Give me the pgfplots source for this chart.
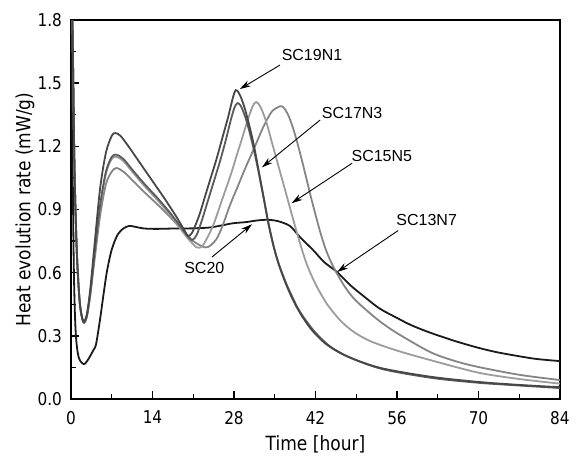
\documentclass[border=0pt]{standalone}
\usepackage{pgfplots}
\pgfplotsset{compat=1.18}
\usepackage{fontspec}
\newfontfamily\tah[FakeStretch=0.87]{DejaVu Sans}
\newfontfamily\arial{Liberation Sans}
\usetikzlibrary{arrows.meta}
\definecolor{cA}{HTML}{474747}
\definecolor{cB}{HTML}{5A5A5A}
\definecolor{cC}{HTML}{9C9C9C}
\definecolor{cD}{HTML}{858585}
\definecolor{cE}{HTML}{1A1A1A}
\begin{document}
\begin{tikzpicture}
\begin{axis}[
  name=ax, at={(0,0)}, anchor=south west,
  scale only axis, width=244.5pt, height=189.5pt,
  xmin=0, xmax=84, ymin=0, ymax=1.8,
  xtick={0,14,28,42,56,70,84},
  ytick={0,0.3,0.6,0.9,1.2,1.5,1.8},
  minor x tick num=1, minor y tick num=1,
  tick align=inside, xtick pos=bottom, ytick pos=left,
  major tick length=4pt, minor tick length=2.5pt,
  axis line style={line width=0.8pt},
  every tick/.style={black, line width=0.7pt},
  /pgf/number format/assume math mode=true,
  tick label style={font=\tah\fontsize{8.8}{10}\selectfont},
  yticklabel style={/pgf/number format/fixed, /pgf/number format/fixed zerofill, /pgf/number format/precision=1, xshift=-1pt},
  xticklabel style={yshift=-2.5pt},
  label style={font=\tah\fontsize{9.8}{11}\selectfont},
  xlabel={Time [hour]},
  ylabel={Heat evolution rate (mW/g)},
  xlabel style={at={(axis description cs:0.5,-0.137)}, anchor=base},
  ylabel style={at={(axis description cs:-0.094,0.5)}, anchor=center},
  every axis plot/.append style={line width=0.9pt, smooth, no marks},
]
% black curve
\addplot[cE] coordinates {
(0.05,2.0)(0.25,1.2)(0.5,0.6)(0.8,0.32)(1.3,0.2)(2.2,0.166)(3,0.19)(3.8,0.23)(4.3,0.26)(5,0.38)(5.6,0.5)(6.2,0.61)(7,0.71)(8,0.78)(9,0.81)(10,0.822)(11,0.818)(12.5,0.81)(14.7,0.808)(18,0.81)(20,0.81)(22.2,0.812)(24,0.815)(26,0.825)(27.9,0.835)(30,0.84)(32,0.848)(33.7,0.851)(35.5,0.845)(37.6,0.822)(39.3,0.77)(41.6,0.707)(43.5,0.65)(45.7,0.603)(48,0.54)(50.2,0.49)(53,0.43)(56,0.385)(58.5,0.35)(61.7,0.315)(66,0.275)(70,0.243)(73.2,0.222)(77,0.203)(80,0.19)(84,0.18)};
% D
\addplot[cD] coordinates {
(0.05,2.2)(0.3,1.7)(0.6,1.1)(1.0,0.7)(1.5,0.46)(2.1,0.37)(2.7,0.39)(3.3,0.49)(4,0.65)(5,0.87)(6,1.02)(7,1.08)(7.8,1.097)(9,1.08)(10.5,1.04)(12.5,0.985)(15,0.92)(17,0.865)(19,0.805)(21,0.75)(23,0.72)(24,0.73)(25,0.76)(26,0.82)(27.3,0.92)(28.5,1.0)(30,1.1)(31.6,1.2)(33,1.29)(34.5,1.365)(35.9,1.39)(36.5,1.385)(37.3,1.35)(38.1,1.29)(38.9,1.215)(39.7,1.13)(40.5,1.04)(41.3,0.95)(42.1,0.865)(42.9,0.785)(43.7,0.715)(44.6,0.655)(45.6,0.6)(47,0.535)(48.5,0.48)(50.2,0.435)(53,0.37)(56,0.313)(61.7,0.223)(66,0.18)(70,0.152)(77,0.115)(84,0.09)};
% C
\addplot[cC] coordinates {
(0.05,2.2)(0.3,1.7)(0.6,1.1)(1.0,0.7)(1.5,0.46)(2.1,0.365)(2.7,0.39)(3.3,0.5)(4,0.68)(5,0.91)(6,1.07)(7,1.14)(7.8,1.15)(9,1.13)(10.5,1.08)(12.5,1.015)(15,0.94)(17,0.875)(18.5,0.82)(20,0.765)(21.6,0.72)(22.5,0.725)(23.3,0.76)(24.5,0.83)(26,0.95)(27.5,1.07)(28.5,1.16)(29.3,1.23)(30.3,1.32)(31.2,1.39)(31.8,1.41)(32.5,1.39)(33.5,1.32)(34.5,1.22)(35.5,1.12)(36.5,1.02)(37.5,0.92)(38.5,0.82)(39.5,0.725)(40.5,0.64)(41.5,0.575)(42.5,0.52)(44,0.45)(46.2,0.375)(48.5,0.32)(51.4,0.275)(56,0.23)(61.7,0.185)(70,0.125)(77,0.095)(84,0.073)};
% B
\addplot[cB] coordinates {
(0.05,2.2)(0.3,1.7)(0.6,1.1)(1.0,0.7)(1.5,0.46)(2.1,0.365)(2.7,0.39)(3.3,0.5)(4,0.68)(5,0.92)(6,1.08)(7,1.15)(7.8,1.16)(9,1.14)(10.5,1.09)(12.5,1.025)(15,0.95)(17,0.885)(18.5,0.83)(19.9,0.78)(20.8,0.755)(21.6,0.78)(22.5,0.85)(23.5,0.94)(24.5,1.03)(25.5,1.12)(26.5,1.22)(27.5,1.33)(28.1,1.385)(28.6,1.405)(29.1,1.395)(29.6,1.365)(30.1,1.325)(30.6,1.275)(31.1,1.22)(31.6,1.16)(32.1,1.095)(32.6,1.025)(33.1,0.955)(33.6,0.88)(34.1,0.81)(34.6,0.75)(35.1,0.695)(35.6,0.65)(36.1,0.61)(37.1,0.54)(38.1,0.48)(39.1,0.425)(40.3,0.375)(42,0.315)(44.5,0.25)(48,0.196)(53.5,0.142)(62,0.1)(70,0.077)(77,0.064)(84,0.052)};
% A
\addplot[cA] coordinates {
(0.05,2.2)(0.3,1.7)(0.6,1.1)(1.0,0.7)(1.5,0.46)(2.1,0.37)(2.7,0.4)(3.3,0.52)(4,0.72)(5,1.0)(6,1.17)(7,1.25)(7.6,1.263)(8.5,1.25)(10,1.195)(12,1.115)(14,1.035)(16,0.955)(18,0.87)(19.3,0.81)(20.1,0.775)(20.8,0.79)(22,0.87)(23,0.96)(24,1.05)(25,1.14)(26,1.24)(27,1.34)(27.8,1.43)(28.3,1.467)(28.8,1.455)(29.3,1.425)(29.8,1.385)(30.3,1.335)(30.8,1.28)(31.3,1.22)(31.8,1.15)(32.3,1.075)(32.8,1.0)(33.3,0.925)(33.8,0.85)(34.3,0.785)(34.8,0.725)(35.3,0.675)(35.8,0.63)(36.8,0.555)(37.8,0.49)(38.8,0.435)(40,0.38)(41.6,0.32)(44,0.257)(47.4,0.203)(53.1,0.148)(61.7,0.106)(70,0.081)(77,0.067)(84,0.056)};
% annotations
\begin{scope}[every node/.style={font=\arial\fontsize{8}{9}\selectfont, inner sep=0pt}]
\node at (axis cs:41.4,1.636) {SC19N1};
\node at (axis cs:48.3,1.36) {SC17N3};
\node at (axis cs:53.4,1.154) {SC15N5};
\node at (axis cs:61.1,0.85) {SC13N7};
\node at (axis cs:22.9,0.624) {SC20};
\end{scope}
\begin{scope}[line width=0.45pt, -{Stealth[length=5.5pt,width=3.2pt]}]
\draw (axis cs:35.9,1.586) -- (axis cs:29.0,1.472);
\draw (axis cs:42.8,1.325) -- (axis cs:32.8,1.10);
\draw (axis cs:48.3,1.12) -- (axis cs:37.9,0.93);
\draw (axis cs:56.2,0.80) -- (axis cs:45.7,0.603);
\draw (axis cs:24.2,0.674) -- (axis cs:31.1,0.83);
\end{scope}
\end{axis}
\pgfresetboundingbox
\path[use as bounding box] (-35.5pt,-31pt) rectangle (253pt,199.5pt);
\end{tikzpicture}
\end{document}
